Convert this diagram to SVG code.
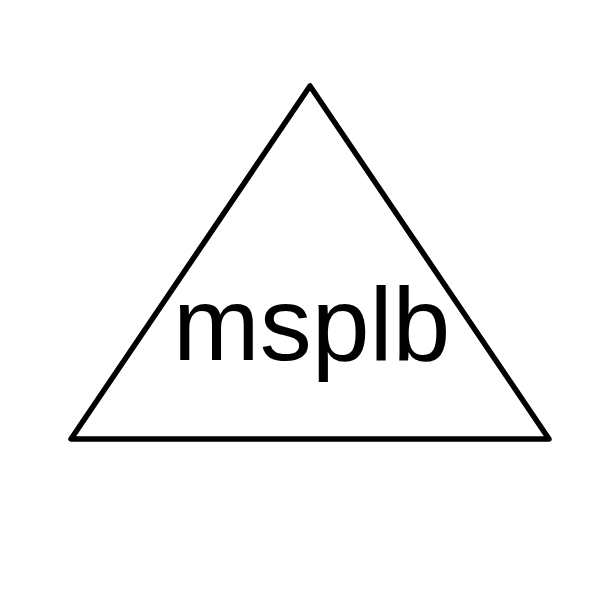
<svg xmlns="http://www.w3.org/2000/svg" width="614" height="614" viewBox="0 0 614 614">
<style>
.shape{fill:#fff;stroke:#000;stroke-width:5.5;stroke-linejoin:round}
.lbl{font-family:"Liberation Sans",Arial,sans-serif;font-size:104px;fill:#000}
</style>
<rect width="614" height="614" fill="#fff"/>
<g id="triangle">
<polygon class="shape" points="310,86 71,439 549,439"/>
<text class="lbl" x="173" y="360">msplb</text>
</g>
<g id="connectors"/>
</svg>
